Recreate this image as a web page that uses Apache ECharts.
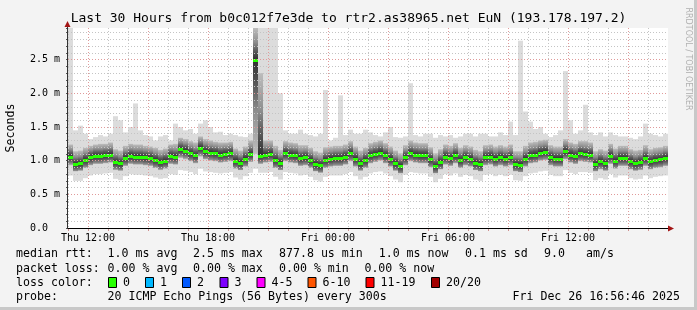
<!DOCTYPE html>
<html><head><meta charset="utf-8">
<script src="https://cdn.jsdelivr.net/npm/echarts@6/dist/echarts.min.js"></script>
<style>html,body{margin:0;padding:0;background:#f3f3f3}#c{width:697px;height:310px}</style>
</head><body><div id="c"></div>
<script>
// x values are hours since Thu 00:00; one sample every 15 minutes
const START_HOUR = 11;
const STEP_HOURS = 0.25;
// median round-trip time (ms)
const med = [
1.06,0.95,0.96,1.01,1.05,1.07,1.07,1.08,1.09,0.98,0.96,1.04,1.07,1.06,1.06,1.05,1.04,1.01,0.98,1.00,
1.07,1.06,1.17,1.15,1.11,1.08,1.19,1.14,1.12,1.11,1.09,1.10,1.11,1.00,0.97,1.03,1.10,2.50,1.07,1.09,
1.10,1.01,0.97,1.11,1.09,1.08,1.04,1.05,1.01,0.95,0.93,1.01,1.03,1.04,1.04,1.06,1.11,1.03,0.96,1.01,
1.08,1.10,1.12,1.08,1.03,0.96,0.92,1.05,1.11,1.09,1.08,1.08,1.02,0.92,0.98,1.06,1.04,1.08,1.01,1.05,
1.03,0.97,0.95,1.05,1.06,1.03,1.05,1.03,1.05,0.95,0.94,1.03,1.08,1.09,1.12,1.13,1.05,1.03,1.03,1.14,
1.09,1.07,1.11,1.10,1.09,0.95,0.99,0.96,1.07,1.00,1.04,1.04,0.99,0.96,0.98,1.04,0.99,1.01,1.02,1.04];
// fastest ping (ms)
const lo = [
0.78,0.70,0.70,0.74,0.78,0.80,0.80,0.81,0.82,0.73,0.71,0.77,0.80,0.79,0.79,0.78,0.77,0.75,0.73,0.74,
0.80,0.79,0.86,0.85,0.83,0.80,0.88,0.84,0.83,0.82,0.81,0.82,0.83,0.75,0.72,0.77,0.82,0.88,0.82,0.82,
0.83,0.76,0.72,0.83,0.82,0.81,0.78,0.79,0.76,0.71,0.69,0.76,0.78,0.78,0.78,0.80,0.83,0.77,0.72,0.76,
0.81,0.83,0.84,0.81,0.77,0.72,0.68,0.79,0.83,0.82,0.81,0.81,0.76,0.68,0.73,0.80,0.78,0.81,0.76,0.79,
0.77,0.72,0.70,0.79,0.80,0.77,0.79,0.77,0.79,0.71,0.70,0.77,0.81,0.82,0.84,0.85,0.79,0.77,0.77,0.86,
0.82,0.80,0.83,0.83,0.82,0.71,0.74,0.72,0.80,0.75,0.78,0.78,0.74,0.72,0.73,0.78,0.74,0.76,0.77,0.78];
// lower edge of the dense smoke (ms)
const p10 = [
0.93,0.84,0.85,0.89,0.93,0.95,0.95,0.96,0.97,0.86,0.85,0.92,0.95,0.94,0.94,0.93,0.92,0.89,0.86,0.88,
0.95,0.94,1.04,1.02,0.99,0.96,1.06,1.02,1.00,0.99,0.97,0.98,0.99,0.88,0.86,0.91,0.98,1.10,0.95,0.97,
0.98,0.89,0.86,0.99,0.97,0.96,0.92,0.93,0.89,0.84,0.82,0.89,0.91,0.92,0.92,0.94,0.99,0.91,0.85,0.89,
0.96,0.98,1.00,0.96,0.91,0.85,0.81,0.93,0.99,0.97,0.96,0.96,0.90,0.81,0.87,0.94,0.92,0.96,0.89,0.93,
0.91,0.86,0.84,0.93,0.94,0.91,0.93,0.91,0.93,0.84,0.83,0.91,0.96,0.97,1.00,1.01,0.93,0.91,0.91,1.02,
0.97,0.95,0.99,0.98,0.97,0.84,0.87,0.85,0.95,0.88,0.92,0.92,0.87,0.85,0.86,0.92,0.87,0.89,0.90,0.92];
// upper edge of the dense smoke (ms)
const p90 = [
1.24,1.14,1.15,1.19,1.22,1.24,1.25,1.25,1.27,1.17,1.15,1.22,1.25,1.24,1.24,1.22,1.21,1.19,1.16,1.18,
1.24,1.25,1.34,1.32,1.29,1.27,1.36,1.32,1.30,1.28,1.27,1.27,1.28,1.18,1.15,1.21,1.30,3.60,2.30,1.30,
1.30,1.22,1.16,1.29,1.27,1.26,1.23,1.23,1.19,1.14,1.12,1.20,1.21,1.22,1.22,1.24,1.29,1.21,1.15,1.19,
1.26,1.28,1.30,1.26,1.21,1.15,1.11,1.23,1.30,1.27,1.26,1.26,1.20,1.11,1.17,1.24,1.22,1.26,1.19,1.23,
1.21,1.16,1.14,1.23,1.24,1.21,1.23,1.21,1.24,1.14,1.14,1.22,1.27,1.28,1.30,1.31,1.23,1.21,1.21,1.32,
1.27,1.25,1.29,1.29,1.27,1.14,1.17,1.15,1.25,1.18,1.22,1.22,1.17,1.15,1.16,1.23,1.17,1.19,1.20,1.22];
// slowest ping (ms)
const mx = [
3.20,1.45,1.52,1.40,1.32,1.35,1.38,1.36,1.40,1.66,1.60,1.42,1.50,1.85,1.45,1.38,1.36,1.30,1.36,1.38,
1.30,1.55,1.50,1.45,1.47,1.40,1.55,1.60,1.50,1.42,1.43,1.38,1.40,1.38,1.36,1.35,1.40,4.00,4.00,3.50,
3.20,3.20,2.00,1.45,1.40,1.40,1.46,1.40,1.38,1.36,1.40,2.05,1.30,1.34,1.97,1.38,1.46,1.40,1.40,1.46,
1.42,1.38,1.36,1.42,1.50,1.35,1.34,1.36,2.15,1.38,1.36,1.40,1.40,1.34,1.38,1.36,1.38,1.34,1.36,1.40,
1.40,1.36,1.40,1.40,1.36,1.36,1.42,1.38,1.58,1.38,2.78,1.73,1.58,1.47,1.50,1.40,1.35,1.38,1.45,2.33,
1.60,1.40,1.45,1.83,1.42,1.38,1.42,1.36,1.42,1.38,1.36,1.36,1.34,1.32,1.36,1.55,1.40,1.38,1.36,1.40];
const xTickLabels = {12:'Thu 12:00', 18:'Thu 18:00', 24:'Fri 00:00', 30:'Fri 06:00', 36:'Fri 12:00'};
const lossLabels = ['0','1','2','3','4-5','6-10','11-19','20/20'];
const lossColors = ['#26ff00','#00b8ff','#0059ff','#7e00ff','#ff00ff','#ff5500','#ff0000','#a10000'];

const MONO = '"DejaVu Sans Mono", monospace';
const data = med.map((m, i) => [START_HOUR + i * STEP_HOURS, lo[i], p10[i], m, p90[i], mx[i]]);

function renderSmoke(params, api) {
  const cs = params.coordSys;
  const top = cs.y, bot = cs.y + cs.height;
  const t = api.value(0);
  const xa = Math.round(api.coord([t, 0])[0]);
  const xb = Math.round(api.coord([t + STEP_HOURS, 0])[0]);
  const w = xb - xa;
  const Y = v => Math.max(top, Math.min(bot, api.coord([t, v])[1]));
  const yLo = Y(api.value(1)), y10 = Y(api.value(2)), yMed = Y(api.value(3)), y90 = Y(api.value(4)), yMx = Y(api.value(5));
  const h = y10 - y90;
  // shading by pixel distance from the median
  const off = d => Math.max(0, Math.min(1, (yMed + d - y90) / h));
  const dTop = yMed - y90, dBot = y10 - yMed;
  const stops = [
    {offset: 0, color: '#bdbdbd'},
    {offset: off(-Math.max(7, dTop * 0.55)), color: '#8e8e8e'},
    {offset: off(-Math.max(4, dTop * 0.3)), color: '#5e5e5e'},
    {offset: off(0), color: '#303030'},
    {offset: off(Math.max(4, dBot * 0.3)), color: '#5e5e5e'},
    {offset: off(Math.max(7, dBot * 0.55)), color: '#8e8e8e'},
    {offset: 1, color: '#bdbdbd'}
  ];
  for (let i = 1; i < stops.length; i++) if (stops[i].offset < stops[i - 1].offset) stops[i].offset = stops[i - 1].offset;
  const grad = new echarts.graphic.LinearGradient(0, 0, 0, 1, stops);
  const ym = Math.round(yMed);
  return {type: 'group', children: [
    {type: 'rect', shape: {x: xa, y: yMx, width: w, height: yLo - yMx}, style: {fill: '#dcdcdc'}},
    {type: 'rect', shape: {x: xa, y: y90, width: w, height: h}, style: {fill: grad}},
    {type: 'rect', shape: {x: xa, y: ym - 1, width: w, height: 3}, style: {fill: lossColors[0]}}
  ]};
}

const graphics = [];
function txt(x, y, s, opts) {
  graphics.push(Object.assign({type: 'text', x: x, y: y, z: 100,
    style: Object.assign({text: s, font: '11.6px ' + MONO, fill: '#000', align: 'left', verticalAlign: 'middle'}, opts || {})}));
}
// frame
graphics.push({type: 'rect', z: 90, shape: {x: 694, y: 0, width: 3, height: 310}, style: {fill: '#c8c8c8'}});
graphics.push({type: 'rect', z: 90, shape: {x: 0, y: 307, width: 697, height: 3}, style: {fill: '#c8c8c8'}});
// axes lines and arrows
graphics.push({type: 'line', z: 95, shape: {x1: 67, y1: 228.5, x2: 671, y2: 228.5}, style: {stroke: '#000', lineWidth: 1}});
graphics.push({type: 'line', z: 95, shape: {x1: 67.5, y1: 229, x2: 67.5, y2: 25}, style: {stroke: '#333', lineWidth: 1}});
graphics.push({type: 'polygon', z: 96, shape: {points: [[64.5, 27], [70.5, 27], [67.5, 21]]}, style: {fill: '#a31515'}});
graphics.push({type: 'polygon', z: 96, shape: {points: [[668, 225.5], [668, 231.5], [674, 228.5]]}, style: {fill: '#a31515'}});
// title and side texts
txt(348.5, 19, 'Last 30 Hours from b0c012f7e3de to rtr2.as38965.net EuN (193.178.197.2)', {font: '13px ' + MONO, align: 'center'});
graphics.push({type: 'text', x: 11, y: 128, rotation: Math.PI / 2, z: 100,
  style: {text: 'Seconds', font: '11.6px ' + MONO, fill: '#000', align: 'center', verticalAlign: 'middle'}});
graphics.push({type: 'text', x: 688, y: 59, rotation: -Math.PI / 2, z: 100,
  style: {text: 'RRDTOOL / TOBI OETIKER', font: '8px "DejaVu Sans", sans-serif', fill: '#b0b0b0', align: 'center', verticalAlign: 'middle'}});
// legend rows
[[16,'median rtt:'],[107.6,'1.0 ms avg'],[193,'2.5 ms max'],[279,'877.8 us min'],[378.7,'1.0 ms now'],[465,'0.1 ms sd'],[544,'9.0'],[586,'am/s']]
  .forEach(a => txt(a[0], 254, a[1]));
[[16,'packet loss:'],[107.6,'0.00 % avg'],[193,'0.00 % max'],[279,'0.00 % min'],[364.4,'0.00 % now']]
  .forEach(a => txt(a[0], 268.5, a[1]));
txt(16, 282.5, 'loss color:');
const boxX = [108, 145, 182, 219.5, 256.5, 307.5, 365.5, 431];
lossLabels.forEach((l, i) => {
  graphics.push({type: 'rect', z: 100, shape: {x: boxX[i] + 0.5, y: 277.5, width: 8, height: 10}, style: {fill: lossColors[i], stroke: '#000', lineWidth: 1}});
  txt(boxX[i] + 15, 282.5, l);
});
txt(16, 296.5, 'probe:');
txt(107.5, 296.5, '20 ICMP Echo Pings (56 Bytes) every 300s');
txt(680, 296.5, 'Fri Dec 26 16:56:46 2025', {align: 'right'});

const chart = echarts.init(document.getElementById('c'), null, {renderer: 'canvas'});
chart.setOption({
  animation: false,
  backgroundColor: '#f3f3f3',
  grid: {left: 68, top: 28, width: 600, height: 200, show: true, backgroundColor: '#ffffff', borderWidth: 0, outerBoundsMode: 'none', containLabel: false},
  xAxis: {
    type: 'value', min: START_HOUR, max: START_HOUR + 30, interval: 1, z: 5,
    axisLine: {show: false},
    axisTick: {show: true, length: 3, lineStyle: {color: '#d09090'}},
    axisLabel: {margin: 5, fontSize: 10, fontFamily: MONO, color: '#000',
      formatter: v => xTickLabels[Math.round(v)] || ''},
    splitLine: {show: true, showMinLine: true, showMaxLine: false,
      lineStyle: {color: ['#c4c4c4', '#e09a9a', '#c4c4c4'], type: [1, 2], width: 1}}
  },
  yAxis: {
    type: 'value', min: 0, max: 2.97, interval: 0.1, z: 5,
    axisLine: {show: false},
    axisTick: {show: true, length: 2, lineStyle: {color: '#555'}},
    axisLabel: {margin: 8, fontSize: 10, fontFamily: MONO, color: '#000',
      formatter: v => {
        if (Math.abs(v * 2 - Math.round(v * 2)) > 1e-6) return '';
        return v < 1e-9 ? '0.0  ' : v.toFixed(1) + ' m';
      }},
    splitLine: {show: true, showMinLine: true, showMaxLine: false,
      lineStyle: {color: ['#e09a9a', '#c4c4c4', '#c4c4c4', '#c4c4c4', '#c4c4c4'], type: [1, 2], width: 1}}
  },
  series: [{type: 'custom', z: 2, renderItem: renderSmoke, data: data, encode: {x: 0, y: 3}, clip: true}],
  graphic: graphics
});
</script></body></html>
